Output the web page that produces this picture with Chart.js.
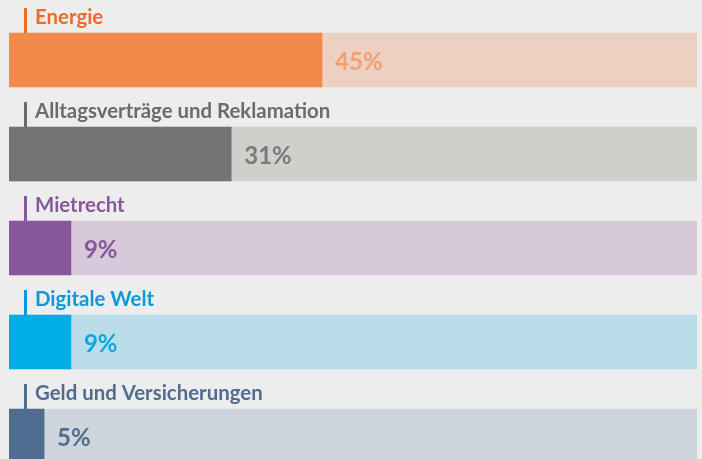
<!DOCTYPE html>
<html>

<head>
  <meta charset="UTF-8" />
  <title>Themen</title>
  <script src="https://cdn.jsdelivr.net/npm/chart.js@4.4.1/dist/chart.umd.min.js"></script>
  <style>
    html, body { margin: 0; padding: 0; background: #ededed; overflow: hidden; }
    #wrap { position: relative; width: 702px; height: 483px; }
  </style>
</head>

<body>
  <div id="wrap"><canvas id="chart"></canvas></div>
  <script>
    const categories = ['Energie', 'Alltagsverträge und Reklamation', 'Mietrecht', 'Digitale Welt', 'Geld und Versicherungen'];
    // bar lengths as drawn in the picture (percent of the full track)
    const values = [45.5, 32.3, 9, 9, 5.1];
    const valueLabels = ['45%', '31%', '9%', '9%', '5%'];
    const trackValues = [100, 100, 100, 100, 100];

    const barColors = ['#f28a4c', '#737373', '#87579e', '#00aee6', '#4f6d8f'];
    const trackColors = ['#ecd1c2', '#cfcfcc', '#d7c8da', '#badde9', '#cfd5dc'];
    const labelColors = ['#ec6a2c', '#6e6a6a', '#87579e', '#0a9ad8', '#4f6d8f'];
    const valueColors = ['#f3a06e', '#7a7a7a', '#87579e', '#0aa8e0', '#4f6d8f'];

    // labels above the bars + the value next to each bar end
    const barText = {
      id: 'barText',
      afterDatasetsDraw(chart) {
        const ctx = chart.ctx;
        const meta = chart.getDatasetMeta(1);
        ctx.save();
        meta.data.forEach((bar, i) => {
          const top = bar.y - bar.height / 2;
          ctx.fillStyle = labelColors[i];
          ctx.fillRect(24, top - 25, 3, 25);
          ctx.font = 'bold 20.4px Lato';
          ctx.textBaseline = 'alphabetic';
          ctx.fillText(categories[i], 35, top - 9);

          ctx.fillStyle = valueColors[i];
          ctx.font = 'bold 24px Lato';
          ctx.textBaseline = 'middle';
          ctx.fillText(valueLabels[i], bar.x + 13, bar.y + 2);
        });
        ctx.restore();
      }
    };

    new Chart(document.getElementById('chart'), {
      type: 'bar',
      data: {
        labels: categories,
        datasets: [{
          data: trackValues,
          backgroundColor: trackColors,
          order: 2
        }, {
          data: values,
          backgroundColor: barColors,
          order: 1
        }]
      },
      options: {
        indexAxis: 'y',
        responsive: true,
        maintainAspectRatio: false,
        animation: false,
        layout: { padding: { top: 13, left: 9, right: 5, bottom: 0 } },
        datasets: { bar: { grouped: false, barThickness: 54, borderWidth: 0 } },
        scales: {
          x: { display: false, min: 0, max: 100 },
          y: { display: false }
        },
        plugins: {
          legend: { display: false },
          tooltip: { enabled: false }
        }
      },
      plugins: [barText]
    });
  </script>
</body>

</html>
